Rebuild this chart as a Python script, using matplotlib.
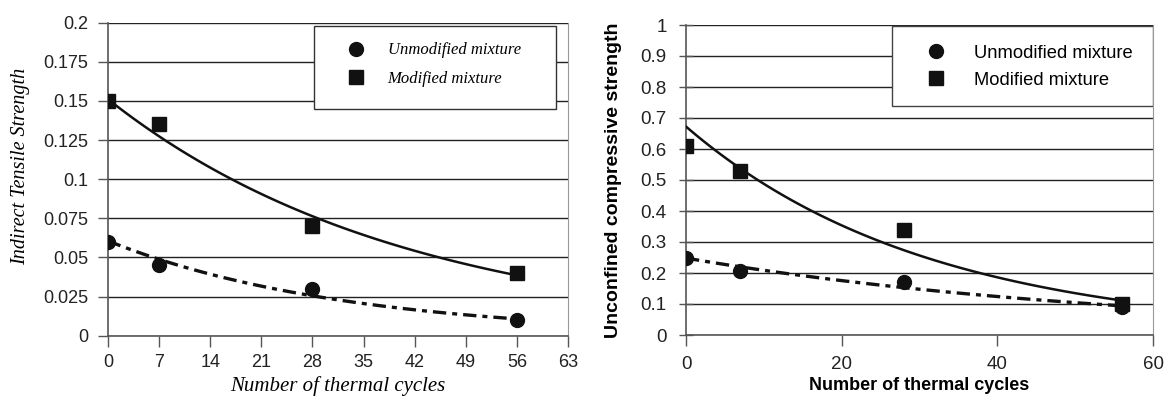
import numpy as np
import matplotlib
matplotlib.use("Agg")
import matplotlib.pyplot as plt
from matplotlib.patches import Rectangle

# Data
cycles = [0, 7, 28, 56]
its_unmod = [0.06, 0.045, 0.03, 0.01]
its_mod = [0.15, 0.135, 0.07, 0.04]
ucs_unmod = [0.25, 0.205, 0.17, 0.09]
ucs_mod = [0.61, 0.53, 0.34, 0.10]

left_xticks = [0, 7, 14, 21, 28, 35, 42, 49, 56, 63]
left_yticks = [0, 0.025, 0.05, 0.075, 0.1, 0.125, 0.15, 0.175, 0.2]
left_yticklabels = ["0", "0.025", "0.05", "0.075", "0.1", "0.125", "0.15", "0.175", "0.2"]
right_xticks = [0, 20, 40, 60]
right_yticks = [0, 0.1, 0.2, 0.3, 0.4, 0.5, 0.6, 0.7, 0.8, 0.9, 1]
right_yticklabels = ["0", "0.1", "0.2", "0.3", "0.4", "0.5", "0.6", "0.7", "0.8", "0.9", "1"]


def expfit(x, y):
    # exponential trendline, like the spreadsheet one
    b, a = np.polyfit(x, np.log(y), 1)
    xs = np.linspace(min(x), max(x), 100)
    return xs, np.exp(a) * np.exp(b * xs)


fig = plt.figure(figsize=(11.68, 4.01), dpi=100)
ax1 = fig.add_axes([108 / 1168, 1 - 335.7 / 401, 460 / 1168, 313 / 401])
ax2 = fig.add_axes([686 / 1168, 1 - 335 / 401, 467 / 1168, 310 / 401])

serif = "Liberation Serif"
sans = "Liberation Sans"
dash = (0, (4, 1.8, 1.5, 1.8))

# ---- left: indirect tensile strength
xs, ys = expfit(cycles, its_mod)
ax1.plot(xs, ys, color="#111111", lw=1.8, zorder=3)
xs, ys = expfit(cycles, its_unmod)
ax1.plot(xs, ys, color="#111111", lw=2.4, linestyle=dash, zorder=3)
ax1.plot(cycles, its_unmod, "o", color="#111111", ms=10, label="Unmodified mixture", zorder=4)
ax1.plot(cycles, its_mod, "s", color="#111111", ms=10, label="Modified mixture", zorder=4)
ax1.set_xlim(0, 63)
ax1.set_ylim(0, 0.2)
ax1.set_xticks(left_xticks)
ax1.set_yticks(left_yticks)
ax1.set_yticklabels(left_yticklabels)
ax1.set_xlabel("Number of thermal cycles", fontfamily=serif, style="italic", fontsize=15, labelpad=4)
ax1.set_ylabel("Indirect Tensile Strength", fontfamily=serif, style="italic", fontsize=14.5)
ax1.yaxis.set_label_coords(-0.17, 0.54)
ax1.add_patch(Rectangle((0.448, 0.724), 0.526, 0.266, transform=ax1.transAxes,
                        facecolor="white", edgecolor="#333333", lw=1.0, zorder=5))
ax1.legend(loc="upper left", bbox_to_anchor=(0.47, 0.985), frameon=False,
           prop={"family": serif, "style": "italic", "size": 12},
           handletextpad=0.9, labelspacing=0.75).set_zorder(6)

# ---- right: unconfined compressive strength
xs, ys = expfit(cycles, ucs_mod)
ax2.plot(xs, ys, color="#111111", lw=1.8, zorder=3)
xs, ys = expfit(cycles, ucs_unmod)
ax2.plot(xs, ys, color="#111111", lw=2.4, linestyle=dash, zorder=3)
ax2.plot(cycles, ucs_unmod, "o", color="#111111", ms=10, label="Unmodified mixture", zorder=4)
ax2.plot(cycles, ucs_mod, "s", color="#111111", ms=10, label="Modified mixture", zorder=4)
ax2.set_xlim(0, 60)
ax2.set_ylim(0, 1)
ax2.set_xticks(right_xticks)
ax2.set_yticks(right_yticks)
ax2.set_yticklabels(right_yticklabels)
ax2.set_xlabel("Number of thermal cycles", fontfamily=sans, fontweight="bold", fontsize=13, labelpad=3)
ax2.set_ylabel("Unconfined compressive strength", fontfamily=sans, fontweight="bold", fontsize=14)
ax2.yaxis.set_label_coords(-0.138, 0.5)
ax2.add_patch(Rectangle((0.441, 0.739), 0.559, 0.258, transform=ax2.transAxes,
                        facecolor="white", edgecolor="#444444", lw=1.0, zorder=5))
ax2.legend(loc="upper left", bbox_to_anchor=(0.46, 0.99), frameon=False,
           prop={"family": sans, "size": 13.2},
           handletextpad=1.1, labelspacing=0.55).set_zorder(6)

for ax in (ax1, ax2):
    ax.yaxis.grid(True, color="#222222", lw=1.0)
    ax.set_axisbelow(True)
    for s in ("left", "bottom"):
        ax.spines[s].set_color("#555555")
        ax.spines[s].set_linewidth(1.2)
    ax.spines["top"].set_visible(False)
    ax.spines["right"].set_color("#999999")

ax1.tick_params(axis="x", length=8, width=1.0, color="#555555", pad=5,
                labelsize=13, labelcolor="#222222")
ax1.tick_params(axis="y", length=7, width=1.0, color="#555555", pad=7,
                labelsize=13, labelcolor="#222222")
ax2.tick_params(axis="x", length=8, width=1.0, color="#555555", pad=7,
                labelsize=13.5, labelcolor="#222222")
ax2.tick_params(axis="y", direction="inout", length=10, width=1.0, color="#555555", pad=9,
                labelsize=13.5, labelcolor="#222222")
for ax in (ax1, ax2):
    for lab in ax.get_xticklabels() + ax.get_yticklabels():
        lab.set_fontfamily(sans)

plt.savefig("out.png", dpi=100)
